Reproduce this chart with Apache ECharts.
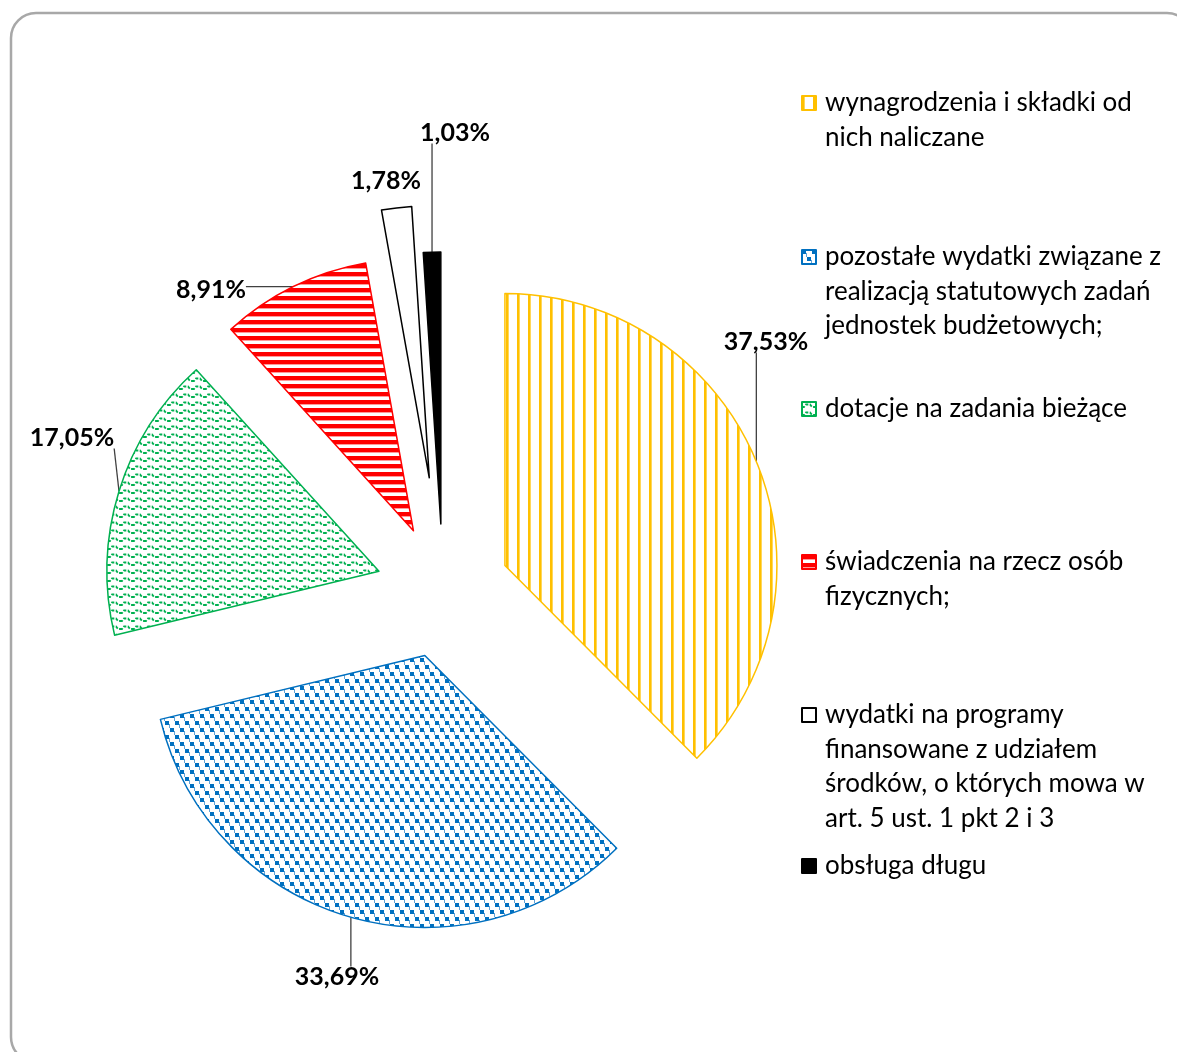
<!DOCTYPE html>
<html>
<head>
<meta charset="utf-8">
<script src="https://cdn.jsdelivr.net/npm/echarts@6/dist/echarts.min.js"></script>
<style>
html,body{margin:0;padding:0;background:#fff;}
#chart{width:1177px;height:1052px;}
</style>
</head>
<body>
<div id="chart"></div>
<script>
// ---- data ----
const categories = [
  'wynagrodzenia i składki od nich naliczane',
  'pozostałe wydatki związane z realizacją statutowych zadań jednostek budżetowych;',
  'dotacje na zadania bieżące',
  'świadczenia na rzecz osób fizycznych;',
  'wydatki na programy finansowane z udziałem środków, o których mowa w art. 5 ust. 1 pkt 2 i 3',
  'obsługa długu'
];
const values = [37.53, 33.69, 17.05, 8.91, 1.78, 1.03];
const legendLines = [
  ['wynagrodzenia i składki od', 'nich naliczane'],
  ['pozostałe wydatki związane z', 'realizacją statutowych zadań', 'jednostek budżetowych;'],
  ['dotacje na zadania bieżące'],
  ['świadczenia na rzecz osób', 'fizycznych;'],
  ['wydatki na programy', 'finansowane z udziałem', 'środków, o których mowa w', 'art. 5 ust. 1 pkt 2 i 3'],
  ['obsługa długu']
];
// ---- layout / style ----
const labelPos = [[766, 342], [337, 977], [72, 438], [211, 290], [386, 181], [455, 133]];
const showLabelLine = [true, true, true, true, false, true];
const explode = [67, 67, 67, 67, 114, 67];
const legendFirstLineY = [103, 257, 409, 562, 715, 866];
const PIE_CENTER = [443, 591];
const PIE_RADIUS = 272;
const LH = 34.5;
const FONT = 'Lato';

function tile(w, h, draw) {
  const c = document.createElement('canvas');
  c.width = w; c.height = h;
  const ctx = c.getContext('2d');
  ctx.fillStyle = '#fff';
  ctx.fillRect(0, 0, w, h);
  draw(ctx);
  return { image: c, repeat: 'repeat' };
}
const patYellow = tile(11, 4, ctx => {
  ctx.fillStyle = '#FFC000'; ctx.fillRect(0, 0, 2, 4);
  ctx.fillStyle = '#FFD75A'; ctx.fillRect(2, 0, 1, 4);
});
const patBlue = tile(10, 14, ctx => {
  ctx.fillStyle = '#0070C0';
  ctx.fillRect(0, 0, 4, 4);
  ctx.fillRect(5, 7, 4, 4);
  ctx.fillStyle = '#5FA3D8';
  ctx.fillRect(4, 3, 1, 4);
  ctx.fillRect(9, 10, 1, 4);
});
const patGreen = tile(12, 8, ctx => {
  ctx.strokeStyle = '#00B050'; ctx.lineWidth = 1.8;
  ctx.setLineDash([3, 1.5]);
  ctx.beginPath();
  ctx.moveTo(0, 5); ctx.lineTo(2, 5); ctx.lineTo(4, 2.5); ctx.lineTo(8, 2.5); ctx.lineTo(10, 5); ctx.lineTo(12, 5);
  ctx.stroke();
});
const patRed = tile(4, 8, ctx => {
  ctx.fillStyle = '#FF0000'; ctx.fillRect(0, 0, 4, 4);
  ctx.fillStyle = '#FF9A9A'; ctx.fillRect(0, 4, 4, 1);
});
const fills = [patYellow, patBlue, patGreen, patRed, '#ffffff', '#000000'];
const borders = ['#FFC000', '#0070C0', '#00B050', '#FF0000', '#000000', '#000000'];

const chart = echarts.init(document.getElementById('chart'), null, { renderer: 'canvas' });

// each slice is drawn by its own pie series (all values, one visible slice),
// shifted outward along the slice's mid angle to get the exploded look
const total = values.reduce((a, b) => a + b, 0);
let cum = 0;
const midAngles = values.map(v => { const m = (cum + v / 2) / total * Math.PI * 2; cum += v; return m; });

function closestOnRect(pt, r) {
  const x = Math.min(Math.max(pt[0], r.x), r.x + r.width);
  const y = Math.min(Math.max(pt[1], r.y), r.y + r.height);
  return [x, y];
}

const series = categories.map((cat, i) => {
  const a = midAngles[i];
  const center = [PIE_CENTER[0] + explode[i] * Math.sin(a), PIE_CENTER[1] - explode[i] * Math.cos(a)];
  return {
    type: 'pie',
    center: center,
    radius: [0, PIE_RADIUS],
    startAngle: 90,
    clockwise: true,
    avoidLabelOverlap: false,
    emphasis: { disabled: true },
    selectedMode: false,
    label: {
      show: true,
      position: 'outside',
      formatter: p => p.value.toFixed(2).replace('.', ',') + '%',
      fontFamily: FONT,
      fontWeight: 'bold',
      fontSize: 25,
      color: '#000'
    },
    labelLine: { show: showLabelLine[i], length: 10, length2: 10, lineStyle: { color: '#404040', width: 1.3 } },
    labelLayout: function (params) {
      const p = labelPos[i];
      const r = params.labelRect;
      const rect = { x: p[0] - r.width / 2, y: p[1] - r.height / 2 + 2, width: r.width, height: r.height - 4 };
      const anchor = params.labelLinePoints ? params.labelLinePoints[0] : [p[0], p[1]];
      const end = closestOnRect(anchor, rect);
      return {
        x: p[0], y: p[1], align: 'center', verticalAlign: 'middle',
        labelLinePoints: [anchor, anchor, end]
      };
    },
    data: values.map((v, j) => j === i ? {
      name: cat,
      value: v,
      itemStyle: { color: fills[j], borderColor: borders[j], borderWidth: 1.5 }
    } : {
      name: '',
      value: v,
      itemStyle: { color: 'rgba(0,0,0,0)', borderWidth: 0 },
      label: { show: false },
      labelLine: { show: false },
      tooltip: { show: false }
    })
  };
});

const legends = categories.map((name, i) => {
  const n = legendLines[i].length;
  const blanks = new Array(n - 1).fill('');
  return {
    data: [name],
    orient: 'vertical',
    left: 801,
    top: legendFirstLineY[i] - (n - 1) * LH - LH / 2,
    padding: 0,
    itemWidth: 14,
    itemHeight: 14,
    selectedMode: false,
    icon: 'rect',
    formatter: () => blanks.concat(legendLines[i]).join('\n'),
    textStyle: { fontFamily: FONT, fontSize: 26, color: '#000', lineHeight: LH, padding: [0, 0, 0, 4] }
  };
});

chart.setOption({
  animation: false,
  backgroundColor: '#fff',
  graphic: [{
    type: 'rect',
    shape: { x: 11, y: 13, width: 1181, height: 1049, r: 25 },
    style: { fill: 'none', stroke: '#a8a8a8', lineWidth: 2.5 },
    silent: true,
    z: -1
  }],
  legend: legends,
  series: series
});
</script>
</body>
</html>
